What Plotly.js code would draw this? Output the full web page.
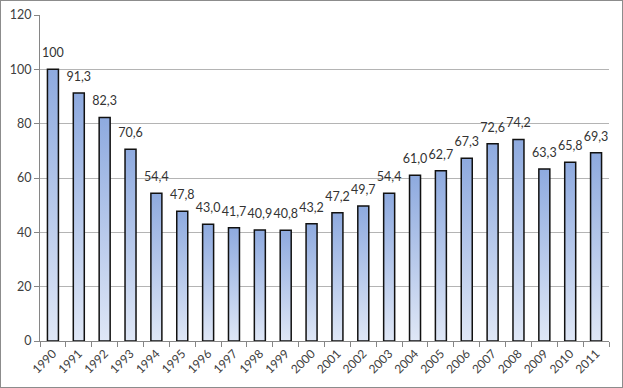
<!DOCTYPE html>
<html>
<head>
<meta charset="utf-8">
<script src="https://cdn.plot.ly/plotly-3.0.1.min.js"></script>
<style>
html,body{margin:0;padding:0;background:#fff;}
#chart{width:621px;height:386px;border:1px solid #8c8c8c;}
</style>
</head>
<body>
<div id="chart"></div>
<script>
const years = ['1990','1991','1992','1993','1994','1995','1996','1997','1998','1999','2000','2001','2002','2003','2004','2005','2006','2007','2008','2009','2010','2011'];
const values = [100,91.3,82.3,70.6,54.4,47.8,43.0,41.7,40.9,40.8,43.2,47.2,49.7,54.4,61.0,62.7,67.3,72.6,74.2,63.3,65.8,69.3];
const yTicks = [0,20,40,60,80,100,120];

const labels = values.map(v => Number.isInteger(v) && v >= 100 ? String(v) : v.toFixed(1).replace('.', ','));

const trace = {
  type: 'bar',
  x: years,
  y: values,
  text: labels,
  textposition: 'outside',
  constraintext: 'none',
  cliponaxis: false,
  textfont: {family: 'Lato, "Liberation Sans", sans-serif', size: 12.5, color: '#333'},
  marker: {color: '#a9bfe6', line: {color: '#111', width: 1.5}},
  hoverinfo: 'none'
};

const layout = {
  width: 621, height: 386,
  margin: {l: 39, r: 13, t: 14, b: 46},
  paper_bgcolor: '#fff', plot_bgcolor: '#fff',
  bargap: 0.575,
  showlegend: false,
  font: {family: 'Lato, "Liberation Sans", sans-serif', size: 12, color: '#404040'},
  xaxis: {
    type: 'category',
    tickangle: -45,
    tickson: 'boundaries',
    ticks: 'outside', ticklen: 5, tickcolor: '#868686',
    showline: true, linecolor: '#868686', linewidth: 1,
    showgrid: false,
    tickfont: {size: 12, color: '#404040'}
  },
  yaxis: {
    range: [0, 120],
    tickvals: yTicks,
    ticktext: yTicks.map(String),
    ticks: 'outside', ticklen: 5, tickcolor: '#868686',
    showline: true, linecolor: '#868686', linewidth: 1,
    showgrid: true, gridcolor: '#b4b4b4', gridwidth: 1,
    zeroline: false,
    tickfont: {size: 12.5, color: '#404040'}
  }
};

Plotly.newPlot('chart', [trace], layout, {displayModeBar: false, staticPlot: true}).then(gd => {
  const svg = gd.querySelector('svg.main-svg');
  const ns = 'http://www.w3.org/2000/svg';
  let defs = svg.querySelector('defs');
  if (!defs) { defs = document.createElementNS(ns, 'defs'); svg.insertBefore(defs, svg.firstChild); }
  const grad = document.createElementNS(ns, 'linearGradient');
  grad.setAttribute('id', 'barGrad');
  grad.setAttribute('x1', '0'); grad.setAttribute('y1', '0');
  grad.setAttribute('x2', '0'); grad.setAttribute('y2', '1');
  [['0', '#8eaadf'], ['1', '#dfe7f6']].forEach(([o, c]) => {
    const s = document.createElementNS(ns, 'stop');
    s.setAttribute('offset', o); s.setAttribute('stop-color', c);
    grad.appendChild(s);
  });
  defs.appendChild(grad);
  gd.querySelectorAll('.barlayer .point path').forEach(p => { p.style.fill = 'url(#barGrad)'; });
  gd.querySelectorAll('.barlayer .point text').forEach(t => {
    const y = parseFloat(t.getAttribute('y') || '0');
    t.setAttribute('y', y - 6);
  });
});
</script>
</body>
</html>
